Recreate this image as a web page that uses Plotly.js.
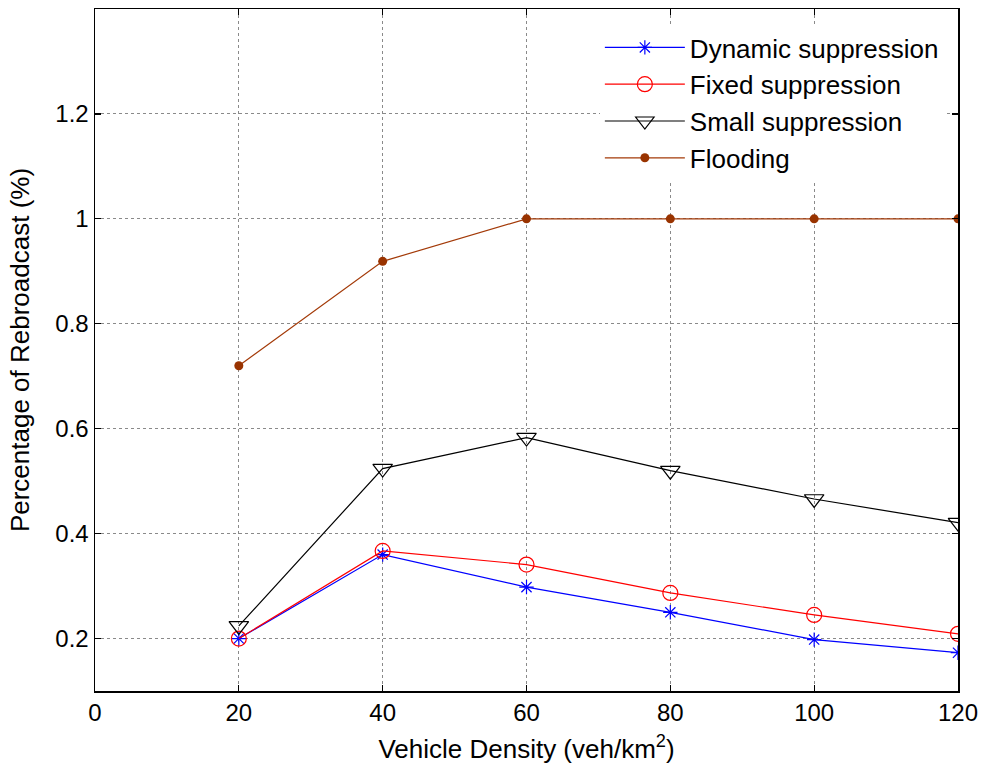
<!DOCTYPE html>
<html>
<head>
<meta charset="utf-8">
<script src="https://cdn.plot.ly/plotly-3.0.1.min.js"></script>
<style>html,body{margin:0;padding:0;background:#fff;}#chart{width:982px;height:772px;}</style>
</head>
<body>
<div id="chart"></div>
<script>
var density = [20, 40, 60, 80, 100, 120];
var dynamicSuppression = [0.200, 0.360, 0.298, 0.250, 0.198, 0.173];
var fixedSuppression = [0.200, 0.367, 0.341, 0.287, 0.245, 0.209];
var smallSuppression = [0.224, 0.524, 0.583, 0.520, 0.466, 0.421];
var flooding = [0.720, 0.919, 1.000, 1.000, 1.000, 1.000];
var xTicks = [0, 20, 40, 60, 80, 100, 120];
var yTicks = [0.2, 0.4, 0.6, 0.8, 1.0, 1.2];
var yTickText = ['0.2', '0.4', '0.6', '0.8', '1', '1.2'];

var FONT = 'Liberation Sans, Arial, sans-serif';

var traces = [
  {x: density, y: dynamicSuppression, name: 'Dynamic suppression', mode: 'lines+markers',
   line: {color: '#0000ff', width: 1.2},
   marker: {symbol: 'asterisk-open', size: 12, color: '#0000ff', line: {color: '#0000ff', width: 1.2}}},
  {x: density, y: fixedSuppression, name: 'Fixed suppression', mode: 'lines+markers',
   line: {color: '#ff0000', width: 1.2},
   marker: {symbol: 'circle-open', size: 15, color: '#ff0000', line: {color: '#ff0000', width: 1.2}}},
  {x: density, y: smallSuppression, name: 'Small suppression', mode: 'lines+markers',
   line: {color: '#000000', width: 1.2},
   marker: {symbol: 'triangle-down-open', size: 17, color: '#000000', line: {color: '#000000', width: 1.2}}},
  {x: density, y: flooding, name: 'Flooding', mode: 'lines+markers',
   line: {color: '#a33a08', width: 1.2},
   marker: {symbol: 'circle', size: 9, color: '#993300'}}
];

var axisCommon = {
  showline: true, linecolor: '#000', linewidth: 1.5, mirror: 'allticks',
  ticks: 'inside', ticklen: 6, tickcolor: '#000', tickwidth: 1.2,
  showgrid: true, gridcolor: '#8a8a8a', griddash: 'dot', gridwidth: 1,
  zeroline: false,
  tickfont: {family: FONT, size: 24, color: '#000'}
};

var layout = {
  width: 982, height: 772,
  margin: {l: 95, r: 24, t: 9, b: 81},
  paper_bgcolor: '#fff', plot_bgcolor: '#fff',
  showlegend: true,
  xaxis: Object.assign({}, axisCommon, {
    range: [0, 120], tickmode: 'array', tickvals: xTicks,
    title: {text: 'Vehicle Density (veh/km<sup>2</sup>)', standoff: 14,
            font: {family: FONT, size: 26, color: '#000'}}
  }),
  yaxis: Object.assign({}, axisCommon, {
    range: [0.1, 1.4], tickmode: 'array', tickvals: yTicks, ticktext: yTickText,
    title: {text: 'Percentage of Rebroadcast (%)', standoff: 18,
            font: {family: FONT, size: 26, color: '#000'}}
  }),
  legend: {
    x: 0.585, y: 0.978, xanchor: 'left', yanchor: 'top',
    bgcolor: '#fff', borderwidth: 0,
    itemwidth: 80,
    font: {family: FONT, size: 26, color: '#000'}
  }
};

Plotly.newPlot('chart', traces, layout, {displayModeBar: false, staticPlot: true});
</script>
</body>
</html>
